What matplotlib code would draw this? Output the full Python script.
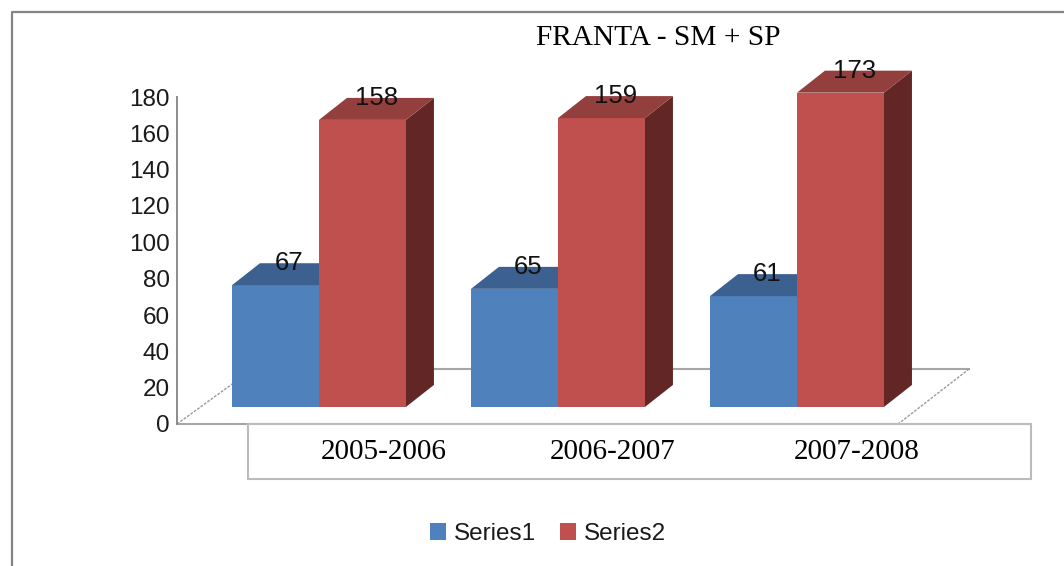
import matplotlib
matplotlib.use("Agg")
import matplotlib.pyplot as plt
from matplotlib.patches import Polygon, Rectangle, Patch
from matplotlib.lines import Line2D

# ---- data ----
categories = ["2005-2006", "2006-2007", "2007-2008"]
series_names = ["Series1", "Series2"]
series1 = [67, 65, 61]
series2 = [158, 159, 173]
title = "FRANTA - SM + SP"
yticks = [0, 20, 40, 60, 80, 100, 120, 140, 160, 180]

# ---- style ----
W, H, DPI = 1064, 566, 100
front = ["#4F81BD", "#C0504D"]
top = ["#3C6191", "#923F3D"]
side = ["#2F4B6E", "#622725"]
BAR_W = 0.364          # width of each bar in category units
DEPTH_X = 0.117        # 3D depth, category units
DEPTH_Y = 12.1         # 3D depth, value units
LIFT = 9.4             # bars stand on the perspective floor
LABEL_SHIFT = [0.27, 0.23, 0.25]  # category labels sit right of group centres
sans = ["Liberation Sans", "DejaVu Sans"]
serif = ["Liberation Serif", "DejaVu Serif"]

fig = plt.figure(figsize=(W / DPI, H / DPI), dpi=DPI)
fig.patch.set_facecolor("white")

px_per_unit = 327 / 180
ymax = 200
ax_h = ymax * px_per_unit
ax = fig.add_axes([177 / W, 142 / H, (1031 - 177) / W, ax_h / H])
x0, x1 = -0.594, 2.979
ax.set_xlim(x0, x1)
ax.set_ylim(0, ymax)
ax.patch.set_alpha(0)

for s in ["top", "right", "bottom"]:
    ax.spines[s].set_visible(False)
ax.spines["left"].set_bounds(0, 180)
ax.spines["left"].set_color("#8C8C8C")
ax.spines["left"].set_linewidth(1.4)
ax.set_xticks([])
ax.set_yticks(yticks)
ax.set_yticklabels([str(v) for v in yticks], fontfamily=sans)
ax.tick_params(axis="y", length=0, pad=5, labelsize=17.5, labelcolor="#1A1A1A")

# floor (perspective plane)
back_y = 30.3
fl_bl = (-0.276, back_y)
fl_br = (2.720, back_y)
fl_fr = (2.423, 0)
fl_fl = (x0, 0)
ax.add_line(Line2D([fl_fl[0], fl_bl[0]], [fl_fl[1], fl_bl[1]], color="#9A9A9A",
                   lw=1.0, ls=(0, (2, 1)), zorder=1))
ax.add_line(Line2D([fl_bl[0], fl_br[0]], [back_y, back_y], color="#A6A6A6", lw=1.5, zorder=1))
ax.add_line(Line2D([fl_br[0], fl_fr[0]], [fl_br[1], fl_fr[1]], color="#9A9A9A",
                   lw=1.0, ls=(0, (2, 1)), zorder=1))
ax.add_line(Line2D([fl_fl[0], fl_fr[0]], [0, 0], color="#A6A6A6", lw=1.5, zorder=1,
                   clip_on=False))

# bars
xs = list(range(len(categories)))
for si, vals in enumerate([series1, series2]):
    pos = [x + (si - 0.5) * BAR_W for x in xs]
    bars = ax.bar(pos, vals, width=BAR_W, bottom=LIFT, color=front[si],
                  zorder=3 + si * 2, linewidth=0, clip_on=False)
    for b, v in zip(bars, vals):
        bx0 = b.get_x()
        bx1 = bx0 + b.get_width()
        yb = b.get_y()
        yt = yb + b.get_height()
        ax.add_patch(Polygon([(bx0, yt), (bx1, yt), (bx1 + DEPTH_X, yt + DEPTH_Y),
                              (bx0 + DEPTH_X, yt + DEPTH_Y)], closed=True,
                             facecolor=top[si], edgecolor="none", zorder=3 + si * 2,
                             clip_on=False))
        ax.add_patch(Polygon([(bx1, yb), (bx1 + DEPTH_X, yb + DEPTH_Y),
                              (bx1 + DEPTH_X, yt + DEPTH_Y), (bx1, yt)], closed=True,
                             facecolor=side[si], edgecolor="none", zorder=2.9 + si * 2,
                             clip_on=False))
        ax.text(bx0 + b.get_width() / 2 + DEPTH_X / 2, yt + DEPTH_Y, str(v),
                ha="center", va="center", fontsize=18.5, fontfamily=sans,
                color="#111111", zorder=10, clip_on=False)

# category label box
box_h = 30.3
ax.add_patch(Rectangle((-0.297, -box_h), x1 - (-0.297), box_h, facecolor="white",
                       edgecolor="#BBBBBB", lw=1.5, zorder=6, clip_on=False))
for x, c, sh in zip(xs, categories, LABEL_SHIFT):
    ax.text(x + sh, -box_h / 2 - 0.5, c, ha="center", va="center", fontsize=21,
            fontfamily=serif, color="black", zorder=7, clip_on=False)

# title
fig.text(658.5 / W, 1 - 38 / H, title, ha="center", va="center", fontsize=21.2,
         fontfamily=serif, color="black")

# legend
handles = [Patch(facecolor=front[0], edgecolor="none"),
           Patch(facecolor=front[1], edgecolor="none")]
fig.legend(handles, series_names, loc="center", bbox_to_anchor=(548 / W, 1 - 534 / H),
           ncol=2, frameon=False, prop={"family": sans, "size": 17.5},
           handlelength=0.66, handleheight=0.66, handletextpad=0.35,
           columnspacing=0.95, labelcolor="#1A1A1A")

# outer chart border (left and top only visible)
fig.add_artist(Line2D([12 / W, 12 / W, 1.0], [0.0, 1 - 12 / H, 1 - 12 / H],
                      transform=fig.transFigure, color="#858585", lw=1.6))

fig.savefig("out.png", dpi=DPI, facecolor="white")
